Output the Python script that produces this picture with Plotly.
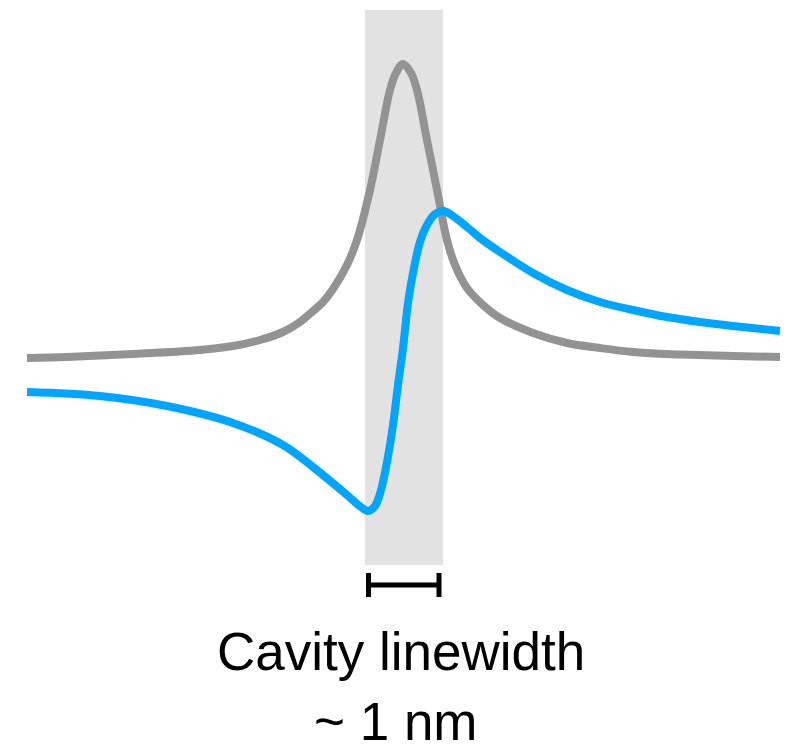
import plotly.graph_objects as go

# Curves (pixel-space coordinates: x right, y down)
gray_x = [27, 67, 133, 200, 233, 260, 283, 300, 313, 323, 333, 347, 357, 370, 380, 390, 396, 403, 411, 417, 427, 437, 447, 455, 467, 483, 500, 533, 567, 600, 633, 667, 733, 780]
gray_y = [358, 357, 354, 350, 346, 340, 332, 322, 311, 302, 289, 265, 240, 190, 140, 90, 73, 64, 73, 90, 140, 190, 240, 265, 288, 305, 318, 333, 343, 348, 352, 354, 356, 357]

blue_x = [27, 100, 167, 233, 283, 313, 347, 361, 368, 375, 381, 387, 393, 398, 403, 408, 413, 420, 427, 435, 444, 453, 467, 480, 500, 533, 567, 600, 633, 667, 700, 733, 780]
blue_y = [392, 396, 406, 423, 445, 467, 495, 507, 511, 506, 490, 462, 425, 385, 348, 303, 273, 242, 225, 214, 211, 216, 227, 238, 252, 273, 290, 302, 310, 317, 322, 326, 331]

band_x = [365, 443]
band_y = [10, 565]
bar_x = [368.5, 439]
bar_y = 585
label_lines = ["Cavity linewidth", "~ 1 nm"]

fig = go.Figure()
fig.add_shape(type="rect", x0=band_x[0], x1=band_x[1], y0=band_y[0], y1=band_y[1],
              fillcolor="#e2e2e2", line_width=0, layer="below")
fig.add_trace(go.Scatter(x=gray_x, y=gray_y, mode="lines", line=dict(color="#939393", width=8, shape="spline", smoothing=1.0)))
fig.add_trace(go.Scatter(x=blue_x, y=blue_y, mode="lines", line=dict(color="#00a5ff", width=8, shape="spline", smoothing=1.0)))

# scale bar
fig.add_shape(type="line", x0=bar_x[0], x1=bar_x[1], y0=bar_y, y1=bar_y, line=dict(color="black", width=5))
for bx in bar_x:
    fig.add_shape(type="line", x0=bx, x1=bx, y0=bar_y - 12, y1=bar_y + 12, line=dict(color="black", width=5))

font = dict(family="Liberation Sans, Arial, sans-serif", size=53, color="black")
fig.add_annotation(x=401, y=651, text=label_lines[0], showarrow=False, font=font, xanchor="center", yanchor="middle")
fig.add_annotation(x=396, y=721, text=label_lines[1], showarrow=False, font=font, xanchor="center", yanchor="middle")

fig.update_layout(
    width=793, height=745, margin=dict(l=0, r=0, t=0, b=0),
    paper_bgcolor="white", plot_bgcolor="white", showlegend=False, hovermode=False,
    xaxis=dict(range=[0, 793], visible=False, fixedrange=True),
    yaxis=dict(range=[745, 0], visible=False, fixedrange=True),
)
fig.write_html("out.html")
